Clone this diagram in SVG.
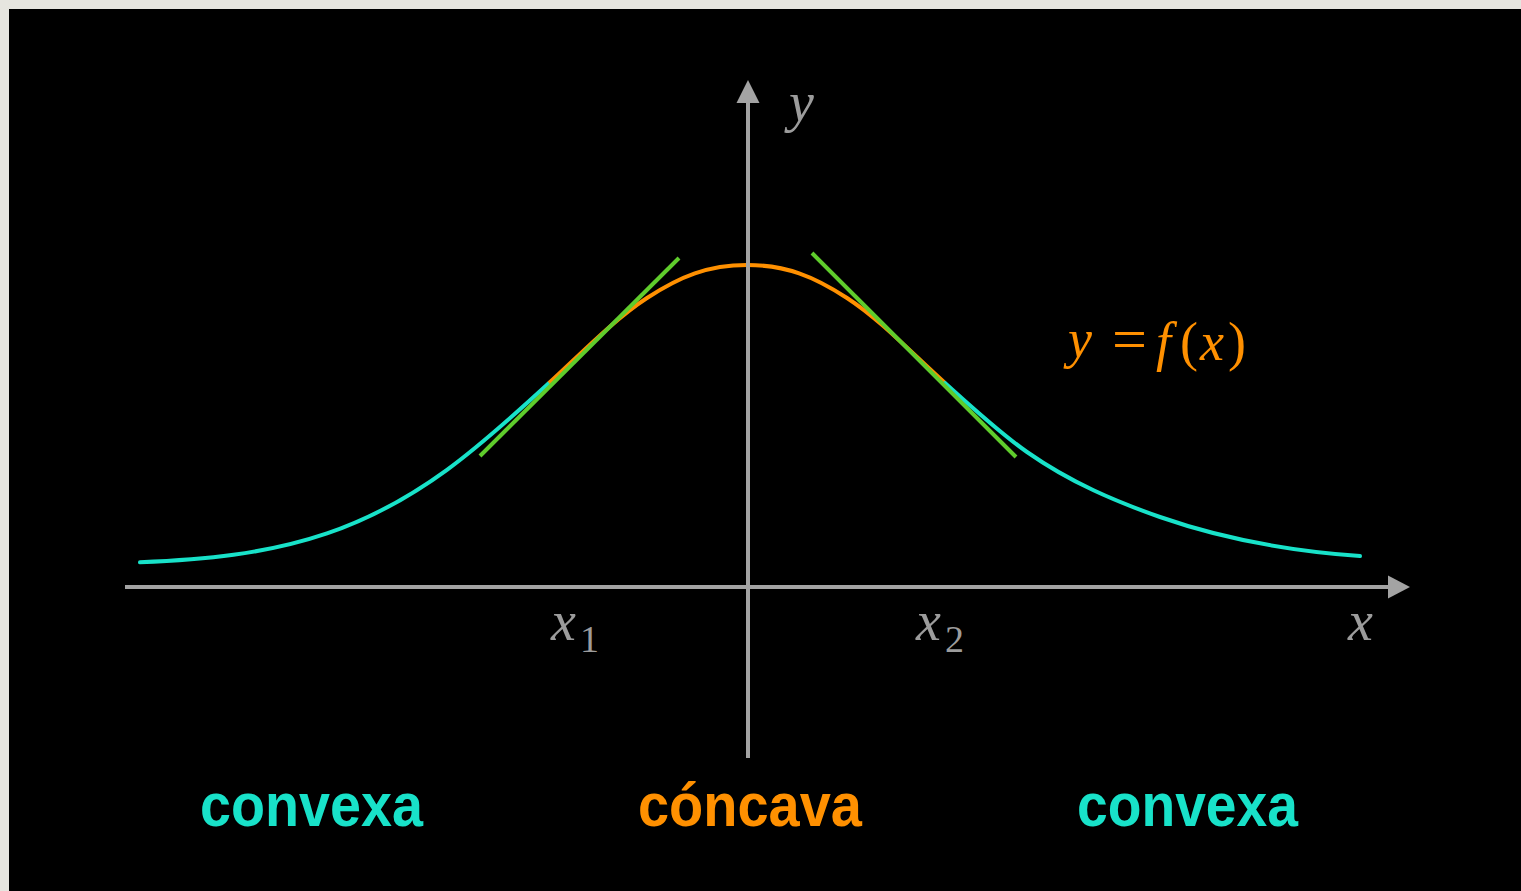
<svg xmlns="http://www.w3.org/2000/svg" width="1521" height="891" viewBox="0 0 1521 891">
<style>
.axis{stroke:#a3a3a3;stroke-width:4;fill:none}
.head{fill:#a3a3a3}
.cv{stroke:#18e2c9;stroke-width:4;fill:none;stroke-linecap:round}
.cc{stroke:#ff9000;stroke-width:4;fill:none}
.tan{stroke:#5fcc2c;stroke-width:4;fill:none}
.var{font-family:"Liberation Serif",serif;font-style:italic;fill:#9c9c9c;font-size:56px}
.sub{font-family:"Liberation Serif",serif;fill:#9c9c9c;font-size:38px}
.fx{font-family:"Liberation Serif",serif;fill:#ff9000;font-size:54px}
.lbl{font-family:"Liberation Sans",Arial,sans-serif;font-weight:bold;font-size:62px}
</style>
<rect x="0" y="0" width="1521" height="891" fill="#e6e5df"/>
<rect x="9" y="9" width="1512" height="882" fill="#000000"/>
<g id="curve">
<path class="cv" d="M140,562.3 C202.3,559.7 264.7,554.5 327,533.4 C367,519.85 407,498.9 447,469.8 C481,445 515,414.2 549,383"/>
<path class="cc" d="M549,383 C581.7,353 614.3,319.2 647,298 C680.3,276.3 708,265 747,265 C786,265 813.7,276.3 847,298 C879.7,319.2 912.3,353.6 945,383"/>
<path class="cv" d="M945,383 C972.3,407.6 999.7,432.9 1027,452 C1071.3,483 1115.7,501.5 1160,517 C1226.7,540.3 1293.3,551.3 1360,556"/>
</g>
<g id="tangents">
<line id="tangent-x1" class="tan" x1="480" y1="456" x2="679" y2="258"/>
<line id="tangent-x2" class="tan" x1="812" y1="253" x2="1016" y2="457"/>
</g>
<g id="axes">
<line id="x-axis" class="axis" x1="125" y1="587" x2="1392" y2="587"/>
<polygon class="head" points="1410,587 1388,575.5 1388,598.5"/>
<line id="y-axis" class="axis" x1="748" y1="758" x2="748" y2="98"/>
<polygon class="head" points="748,80 736.5,103 759.5,103"/>
</g>
<g id="labels">
<text class="var" x="789" y="121">y</text>
<text class="var" x="1348" y="640">x</text>
<text x="551" y="640"><tspan class="var">x</tspan><tspan class="sub" x="580" y="652">1</tspan></text>
<text x="916" y="640"><tspan class="var">x</tspan><tspan class="sub" x="945" y="652">2</tspan></text>
<text class="fx" y="357"><tspan x="1068" font-style="italic">y</tspan><tspan x="1112" font-size="62" y="360">=</tspan><tspan x="1156" font-style="italic">f</tspan><tspan x="1180">(</tspan><tspan x="1200" font-style="italic">x</tspan><tspan x="1228">)</tspan></text>
</g>
<g id="region-labels">
<text class="lbl" x="200" y="826" fill="#18e2c9" textLength="223" lengthAdjust="spacingAndGlyphs">convexa</text>
<text class="lbl" x="638" y="826" fill="#ff9000" textLength="224" lengthAdjust="spacingAndGlyphs">cóncava</text>
<text class="lbl" x="1077" y="826" fill="#18e2c9" textLength="221" lengthAdjust="spacingAndGlyphs">convexa</text>
</g>
</svg>
